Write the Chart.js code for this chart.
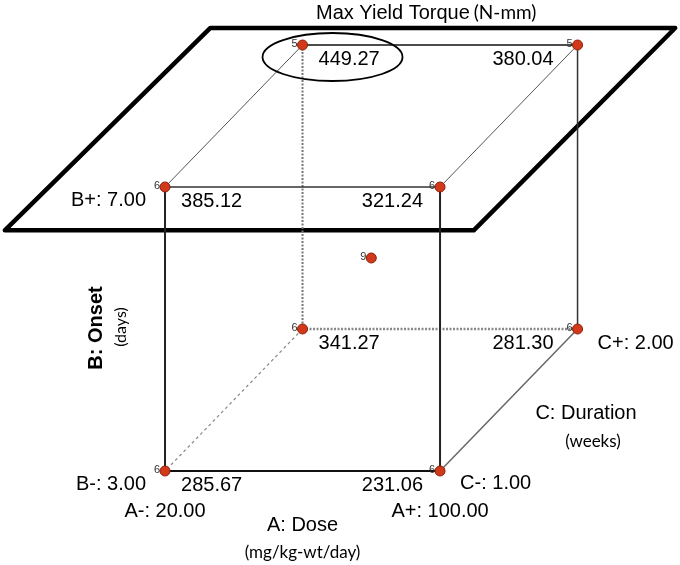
<!DOCTYPE html>
<html>
<head>
<meta charset="utf-8">
<script src="https://cdn.jsdelivr.net/npm/chart.js@4"></script>
<style>
  body { margin: 0; background: #fff; }
  canvas { display: block; }
</style>
</head>
<body>
<canvas id="cube" width="680" height="565"></canvas>
<script>
// factor levels (low, high)
const doseLevels = [20.00, 100.00];     // A: mg/kg-wt/day
const onsetLevels = [3.00, 7.00];       // B: days
const durationLevels = [1.00, 2.00];    // C: weeks

// coded design: 8 corners + centre point
const codeA = [-1, 1, -1, 1, -1, 1, -1, 1, 0];
const codeB = [-1, -1, -1, -1, 1, 1, 1, 1, 0];
const codeC = [-1, -1, 1, 1, -1, -1, 1, 1, 0];
const torque = [285.67, 231.06, 341.27, 281.30, 385.12, 321.24, 449.27, 380.04, null];
const replicates = [6, 6, 6, 6, 6, 6, 5, 5, 9];

// oblique projection of the cube
function project(a, b, c) {
  return { x: a + 0.5 * c, y: b + 0.5 * c };
}
const pts = codeA.map((a, i) => project(a, codeB[i], codeC[i]));

// cube edges (run index pairs) and how they look
const edges = [
  { runs: [0, 1], color: '#111', width: 2 },
  { runs: [0, 4], color: '#222', width: 2 },
  { runs: [1, 5], color: '#222', width: 2 },
  { runs: [4, 5], color: '#333', width: 1.5 },
  { runs: [4, 6], color: '#555', width: 1 },
  { runs: [5, 7], color: '#555', width: 1 },
  { runs: [6, 7], color: '#111', width: 1.5 },
  { runs: [7, 3], color: '#333', width: 1.5 },
  { runs: [3, 1], color: '#666', width: 1.5 },
  { runs: [6, 2], color: '#777', width: 2, dash: [2, 1.5] },
  { runs: [2, 3], color: '#888', width: 2.5, dash: [2, 1.5] },
  { runs: [2, 0], color: '#888', width: 1.2, dash: [3, 3] }
];

const datasets = [{
  data: pts.map(p => ({ x: p.x, y: p.y })),
  pointRadius: 5,
  pointBackgroundColor: '#d2391b',
  pointBorderColor: '#8c2008',
  pointBorderWidth: 1,
  showLine: false
}];
edges.forEach(e => {
  datasets.push({
    data: e.runs.map(i => ({ x: pts[i].x, y: pts[i].y })),
    showLine: true,
    pointRadius: 0,
    borderColor: e.color,
    borderWidth: e.width,
    borderDash: e.dash || []
  });
});

const fmt = v => v.toFixed(2);

const cubeLabels = {
  id: 'cubeLabels',
  beforeDatasetsDraw(chart) {
    const { ctx, scales: { x, y } } = chart;
    const px = p => [x.getPixelForValue(p.x), y.getPixelForValue(p.y)];
    // the B+ plane (a, c) corners
    const plane = [[-1.79, 1.24], [1.59, 1.24], [1.55, -1.61], [-1.86, -1.61]];
    ctx.save();
    ctx.beginPath();
    plane.forEach(([a, c], i) => {
      const [X, Y] = px(project(a, 1, c));
      i ? ctx.lineTo(X, Y) : ctx.moveTo(X, Y);
    });
    ctx.closePath();
    ctx.lineWidth = 4.5;
    ctx.lineJoin = 'round';
    ctx.strokeStyle = '#000';
    ctx.stroke();
    ctx.restore();
  },
  afterDatasetsDraw(chart) {
    const { ctx, scales: { x, y } } = chart;
    const px = p => [x.getPixelForValue(p.x), y.getPixelForValue(p.y)];
    ctx.save();
    ctx.fillStyle = '#000';
    ctx.textBaseline = 'middle';

    // responses at the corners
    ctx.font = '20px "Liberation Sans", Arial, sans-serif';
    torque.forEach((v, i) => {
      if (v == null) return;
      const [X, Y] = px(pts[i]);
      if (codeA[i] < 0) {
        ctx.textAlign = 'left';
        ctx.fillText(fmt(v), X + 16, Y + 14);
      } else {
        ctx.textAlign = 'right';
        ctx.fillText(fmt(v), X - (codeC[i] < 0 ? 17 : 24), Y + 14);
      }
    });

    // replicate counts
    ctx.font = '11px "Liberation Sans", Arial, sans-serif';
    ctx.fillStyle = '#333';
    ctx.textAlign = 'right';
    replicates.forEach((n, i) => {
      const [X, Y] = px(pts[i]);
      ctx.fillText(String(n), X - 5, Y - 1);
    });

    // highlight the max
    const iMax = torque.indexOf(Math.max(...torque.filter(v => v != null)));
    const [mx, my] = px(pts[iMax]);
    ctx.beginPath();
    ctx.ellipse(mx + 30, my + 12, 70, 24, 0, 0, Math.PI * 2);
    ctx.lineWidth = 1.8;
    ctx.strokeStyle = '#000';
    ctx.stroke();

    // factor levels
    ctx.fillStyle = '#000';
    ctx.font = '20px "Liberation Sans", Arial, sans-serif';
    let [X, Y] = px(pts[4]);
    ctx.textAlign = 'right';
    ctx.fillText('B+: ' + fmt(onsetLevels[1]), X - 19, Y + 13);
    [X, Y] = px(pts[0]);
    ctx.fillText('B-: ' + fmt(onsetLevels[0]), X - 19, Y + 13);
    ctx.textAlign = 'center';
    ctx.fillText('A-: ' + fmt(doseLevels[0]), X, Y + 40);
    [X, Y] = px(pts[1]);
    ctx.fillText('A+: ' + fmt(doseLevels[1]), X, Y + 40);
    ctx.textAlign = 'left';
    ctx.fillText('C-: ' + fmt(durationLevels[0]), X + 20, Y + 12);
    [X, Y] = px(pts[3]);
    ctx.fillText('C+: ' + fmt(durationLevels[1]), X + 20, Y + 14);

    // axis names
    const [x0] = px(pts[0]);
    const [x1, yb] = px(pts[1]);
    ctx.textAlign = 'center';
    ctx.fillText('A: Dose', (x0 + x1) / 2, yb + 54);
    ctx.font = '17px Lato, "Open Sans", sans-serif';
    ctx.fillText('(mg/kg-wt/day)', (x0 + x1) / 2, yb + 82);

    ctx.font = '20px "Liberation Sans", Arial, sans-serif';
    ctx.fillText('C: Duration', 586, 413);
    ctx.font = '17px Lato, "Open Sans", sans-serif';
    ctx.fillText('(weeks)', 593, 442);

    ctx.save();
    ctx.translate(96, 328);
    ctx.rotate(-Math.PI / 2);
    ctx.font = 'bold 20px "Liberation Sans", Arial, sans-serif';
    ctx.fillText('B: Onset', 0, 0);
    ctx.restore();
    ctx.save();
    ctx.translate(121, 327);
    ctx.rotate(-Math.PI / 2);
    ctx.font = '16px Lato, "Open Sans", sans-serif';
    ctx.fillText('(days)', 0, 0);
    ctx.restore();

    // title
    ctx.textAlign = 'left';
    ctx.font = '20px "Liberation Sans", Arial, sans-serif';
    const t1 = 'Max Yield Torque';
    ctx.fillText(t1, 316, 13);
    const w1 = ctx.measureText(t1).width;
    ctx.font = '19px Lato, "Open Sans", sans-serif';
    ctx.fillText('(N-mm)', 316 + w1 + 4, 13);
    ctx.restore();
  }
};

new Chart(document.getElementById('cube'), {
  type: 'scatter',
  data: { datasets },
  options: {
    responsive: false,
    animation: false,
    devicePixelRatio: 1,
    layout: { padding: 0, autoPadding: false },
    plugins: { legend: { display: false }, tooltip: { enabled: false } },
    scales: {
      x: { type: 'linear', display: false, min: -2.7, max: 2.245 },
      y: { type: 'linear', display: false, min: -2.162, max: 1.817 }
    }
  },
  plugins: [cubeLabels]
});
</script>
</body>
</html>
